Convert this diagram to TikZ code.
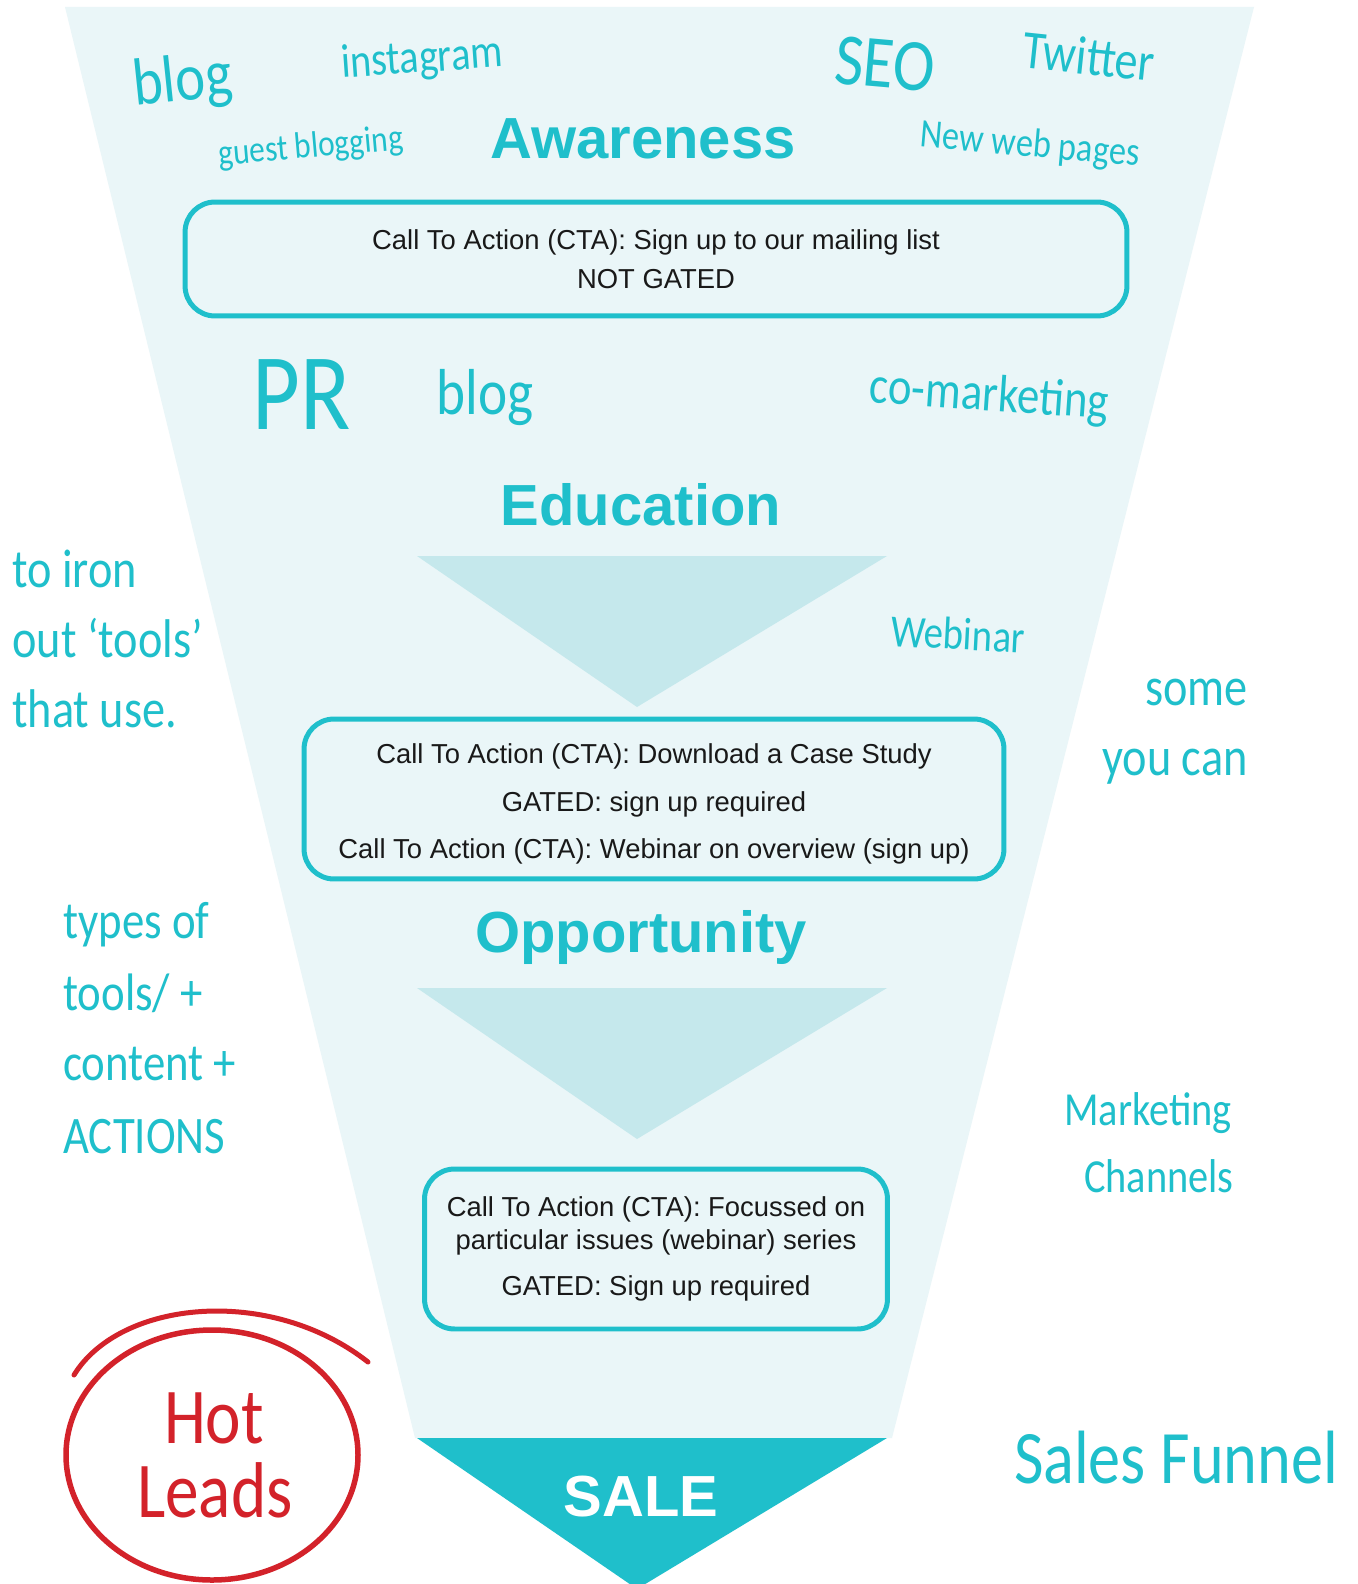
\documentclass[tikz,border=0pt]{standalone}
\usepackage{fontspec}
\setmainfont{Liberation Sans}
\newfontfamily\handfont[FakeStretch=0.85]{Carlito}
\definecolor{funnelteal}{RGB}{31,191,203}
\definecolor{funnelbg}{RGB}{234,246,248}
\definecolor{stagebg}{RGB}{197,232,236}
\definecolor{leadred}{RGB}{211,34,42}

\begin{document}
\begin{tikzpicture}[x=0.02cm, y=-0.02cm,
    hand/.style={text=funnelteal, inner sep=0pt, font=\handfont\fontsize{#1}{#1}\selectfont},
    stage/.style={text=funnelteal, inner sep=0pt, font=\fontsize{33}{33}\selectfont\bfseries},
    cta/.style={draw=funnelteal, line width=0.1cm, rounded corners=0.6cm, fill=funnelbg,
        align=center, text=black!90, inner sep=0pt}]
    \useasboundingbox (0,0) rectangle (1357,1584);
    \clip (0,0) rectangle (1357,1584);
    \fill[white] (0,0) rectangle (1357,1584);

    % funnel body and stage arrows
    \coordinate (TL) at (65,7);
    \coordinate (TR) at (1254,7);
    \coordinate (BR) at (892,1438);
    \coordinate (BL) at (415,1438);
    \fill[funnelbg] (TL) -- (TR) -- (BR) -- (BL) -- cycle;
    \fill[stagebg] (417,556) -- (887,556) -- (637,707) -- cycle;
    \fill[stagebg] (417,988) -- (887,988) -- (637,1139) -- cycle;
    \fill[funnelteal] (417,1438) -- (887,1438) -- (637,1589) -- cycle;

    % stages
    \node[stage] (awareness) at (643,139) {Awareness};
    \node[stage] (education) at (641,505) {Education};
    \node[stage] (opportunity) at (641,938) {Opportunity};
    \node[stage, text=white] (sale) at (641,1497) {SALE};

    % calls to action
    \node[cta, minimum width=18.84cm, minimum height=2.28cm,
        font=\fontsize{15.6}{22}\selectfont] (cta1) at (656,259)
        {Call To Action (CTA): Sign up to our mailing list\\NOT GATED};
    \node[cta, minimum width=14cm, minimum height=3.2cm,
        font=\fontsize{15.6}{27}\selectfont] (cta2) at (654,799)
        {\rule{0pt}{17pt}Call To Action (CTA): Download a Case Study\\GATED: sign up required\\Call To Action (CTA): Webinar on overview (sign up)};
    \node[cta, minimum width=9.26cm, minimum height=3.2cm,
        font=\fontsize{15.6}{18.7}\selectfont] (cta3) at (656,1249)
        {Call To Action (CTA): Focussed on\\particular issues (webinar) series\\[8pt]GATED: Sign up required};

    % channels
    \node[hand=38, rotate=6] (blogA) at (183,83) {blog};
    \node[hand=27, rotate=4] (instagram) at (422,60) {instagram};
    \node[hand=42, rotate=-5] (seo) at (885,64) {SEO};
    \node[hand=31, rotate=-6] (twitter) at (1089,56) {Twitter};
    \node[hand=21, rotate=5] (guest) at (311,148) {guest blogging};
    \node[hand=23, rotate=-5] (newpages) at (1030,146) {New web pages};
    \node[hand=62] (pr) at (302,395) {PR};
    \node[hand=37] (blogB) at (485,398) {blog};
    \node[hand=30, rotate=-4] (comarketing) at (989,397) {co-marketing};
    \node[hand=26, rotate=-3] (webinar) at (958,634) {Webinar};

    % side notes
    \node[hand=31, anchor=base west] (ironA) at (12,587) {to iron};
    \node[hand=31, anchor=base west] (ironB) at (12,657) {out ‘tools’};
    \node[hand=31, anchor=base west] (ironC) at (12,727) {that use.};
    \node[hand=31, anchor=base east] (someA) at (1248,705) {some};
    \node[hand=31, anchor=base east] (someB) at (1248,775) {you can};
    \node[hand=30, anchor=base west] (typesA) at (63,938) {types of};
    \node[hand=30, anchor=base west] (typesB) at (63,1010) {tools/ +};
    \node[hand=30, anchor=base west] (typesC) at (63,1080) {content +};
    \node[hand=30, anchor=base west] (typesD) at (63,1153) {ACTIONS};
    \node[hand=27, anchor=base east] (marketA) at (1232,1125) {Marketing};
    \node[hand=27, anchor=base east] (marketB) at (1234,1192) {Channels};
    \node[hand=43] (title) at (1176,1458) {Sales Funnel};

    % hot leads
    \draw[leadred, line width=0.11cm] (212,1455) ellipse [x radius=146, y radius=125];
    \draw[leadred, line width=0.1cm, line cap=round]
        (74,1375) .. controls (120,1300) and (270,1285) .. (368,1362);
    \node[hand=45, text=leadred] (hot) at (214,1418) {Hot};
    \node[hand=45, text=leadred] (leads) at (215,1490) {Leads};
\end{tikzpicture}
\end{document}
